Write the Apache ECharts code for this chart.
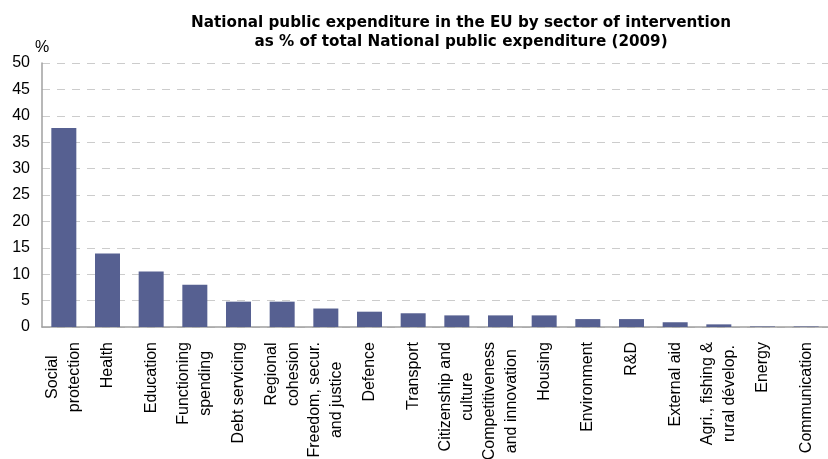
<!DOCTYPE html>
<html>
<head>
<meta charset="utf-8">
<script src="https://cdn.jsdelivr.net/npm/echarts@6/dist/echarts.min.js"></script>
<style>
  html, body { margin: 0; padding: 0; background: #ffffff; }
  #chart { width: 828px; height: 459px; }
</style>
</head>
<body>
<div id="chart"></div>
<script>
// Sectors of intervention (line breaks as they wrap under the axis)
const sectors = [
  'Social\nprotection',
  'Health',
  'Education',
  'Functioning\nspending',
  'Debt servicing',
  'Regional\ncohesion',
  'Freedom, secur.\nand justice',
  'Defence',
  'Transport',
  'Citizenship and\nculture',
  'Competitiveness\nand innovation',
  'Housing',
  'Environment',
  'R&D',
  'External aid',
  'Agri., fishing &\nrural dévelop.',
  'Energy',
  'Communication'
];

// Share of total national public expenditure, %
const shares = [37.7, 13.9, 10.5, 8.0, 4.8, 4.8, 3.5, 2.9, 2.6, 2.2, 2.2, 2.2, 1.5, 1.5, 0.9, 0.5, 0.1, 0.1];

const titleLines = [
  'National public expenditure in the EU by sector of intervention',
  'as % of total National public expenditure (2009)'
];
const unitLabel = '%';

const FONT = "'Liberation Sans', Arial, Helvetica, sans-serif";
const TITLE_FONT = "'DejaVu Sans', Verdana, sans-serif";
const CAT_FONT_SIZE = 16;
const CAT_LINE_HEIGHT = 22;
const CAT_MARGIN = 15;

// Width of the longest line of a category label, used to hang the
// rotated block from the axis with its lines centred on each other.
const measureCtx = document.createElement('canvas').getContext('2d');
measureCtx.font = CAT_FONT_SIZE + 'px ' + FONT;
function longestLine(lines) {
  return Math.max.apply(null, lines.map(function (s) {
    return measureCtx.measureText(s).width;
  }));
}

const chart = echarts.init(document.getElementById('chart'), null, { renderer: 'canvas' });

chart.setOption({
  animation: false,
  backgroundColor: '#ffffff',
  title: {
    text: titleLines.join('\n'),
    left: 456,
    top: 9,
    textAlign: 'center',
    textStyle: {
      fontFamily: TITLE_FONT,
      fontSize: 15.2,
      fontWeight: 'bold',
      color: '#000000',
      lineHeight: 19
    }
  },
  grid: {
    left: 42,
    right: 0,
    top: 63,
    bottom: 132,
    containLabel: false
  },
  xAxis: {
    type: 'category',
    data: sectors,
    axisLine: { show: true, lineStyle: { color: '#a0a0a0', width: 1.5 } },
    axisTick: { show: false },
    axisLabel: { show: false }
  },
  yAxis: {
    type: 'value',
    min: 0,
    max: 50,
    interval: 5,
    name: unitLabel,
    nameLocation: 'end',
    nameGap: 6,
    nameTextStyle: {
      fontFamily: FONT,
      fontSize: 16,
      color: '#000000',
      align: 'center'
    },
    axisLine: { show: true, lineStyle: { color: '#a0a0a0', width: 1.5 } },
    axisTick: { show: false },
    axisLabel: {
      margin: 12,
      fontFamily: FONT,
      fontSize: 16,
      color: '#000000'
    },
    splitLine: {
      show: true,
      lineStyle: { color: '#cccccc', width: 1, type: [8, 7] }
    }
  },
  series: [
    {
      type: 'bar',
      data: shares,
      barWidth: 25,
      itemStyle: { color: '#566091' }
    },
    {
      // Category names: each line is its own rotated text, all lines
      // centred on the same point below the axis.
      type: 'custom',
      clip: false,
      silent: true,
      data: sectors.map(function (s, i) { return [i, 0]; }),
      encode: { x: 0, y: 1 },
      renderItem: function (params, api) {
        const idx = api.value(0);
        const p = api.coord([idx, 0]);
        const lines = sectors[idx].split('\n');
        const w = longestLine(lines);
        const n = lines.length;
        return {
          type: 'group',
          children: lines.map(function (line, i) {
            return {
              type: 'text',
              x: p[0] + (i - (n - 1) / 2) * CAT_LINE_HEIGHT,
              y: p[1] + CAT_MARGIN + w / 2,
              rotation: Math.PI / 2,
              style: {
                text: line,
                fontFamily: FONT,
                fontSize: CAT_FONT_SIZE,
                align: 'center',
                verticalAlign: 'middle',
                fill: '#000000'
              }
            };
          })
        };
      }
    }
  ]
});
</script>
</body>
</html>
